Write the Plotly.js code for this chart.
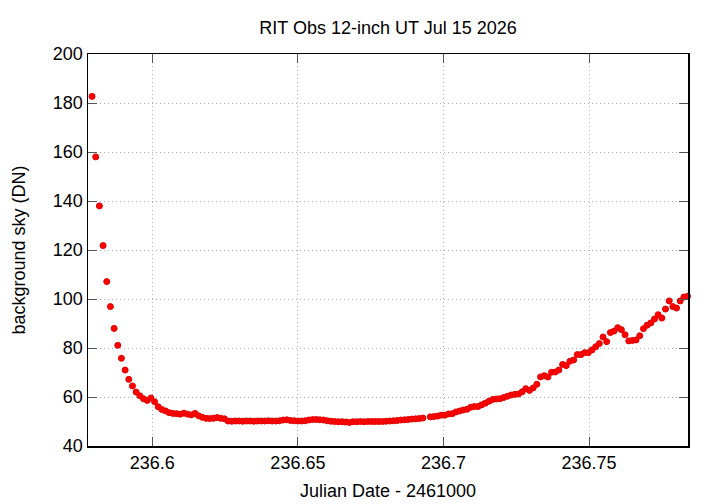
<!DOCTYPE html>
<html>
<head>
<meta charset="utf-8">
<script src="https://cdn.plot.ly/plotly-3.0.1.min.js"></script>
<style>html,body{margin:0;padding:0;background:#fff;}#chart{width:720px;height:504px;}</style>
</head>
<body>
<div id="chart"></div>
<script>
// Julian Date - 2461000
var jd = [
236.57929,236.58055,236.58182,236.58308,236.58434,236.58560,236.58687,236.58813,236.58939,236.59065,
236.59192,236.59318,236.59444,236.59571,236.59697,236.59823,236.59949,236.60076,236.60202,236.60328,
236.60454,236.60581,236.60707,236.60833,236.60959,236.61086,236.61212,236.61338,236.61465,236.61591,
236.61717,236.61843,236.61970,236.62096,236.62222,236.62348,236.62475,236.62601,236.62727,236.62854,
236.62980,236.63106,236.63232,236.63359,236.63485,236.63611,236.63737,236.63864,236.63990,236.64116,
236.64243,236.64369,236.64495,236.64621,236.64748,236.64874,236.65000,236.65126,236.65253,236.65379,
236.65505,236.65631,236.65758,236.65884,236.66010,236.66137,236.66263,236.66389,236.66515,236.66642,
236.66768,236.66894,236.67020,236.67147,236.67273,236.67399,236.67526,236.67652,236.67778,236.67904,
236.68031,236.68157,236.68283,236.68409,236.68536,236.68662,236.68788,236.68915,236.69041,236.69167,
236.69293,
236.69546,236.69672,236.69798,236.69925,236.70051,236.70177,236.70304,236.70430,236.70556,236.70682,
236.70809,236.70935,236.71061,236.71187,236.71314,236.71440,236.71566,236.71693,236.71819,236.71945,
236.72071,236.72198,236.72324,236.72450,236.72576,236.72703,236.72829,236.72955,236.73082,236.73208,
236.73334,236.73460,236.73587,236.73713,236.73839,236.73965,236.74092,236.74218,236.74344,236.74471,
236.74597,236.74723,236.74849,236.74976,236.75102,236.75228,236.75354,236.75481,236.75607,236.75733,
236.75860,236.75986,236.76112,236.76238,236.76365,236.76491,236.76617,236.76743,236.76870,236.76996,
236.77122,236.77249,236.77375,236.77501,236.77627,236.77754,236.77880,236.78006,236.78132,236.78259,
236.78385
];
// background sky (DN)
var sky = [
182.7,158.0,138.0,121.8,107.1,96.9,88.0,81.1,75.8,71.0,
67.2,64.5,62.0,60.5,59.3,58.6,59.6,58.1,56.0,54.9,
54.3,53.6,53.3,53.2,53.0,53.4,53.0,52.7,53.3,52.3,
51.7,51.3,51.2,51.3,51.6,51.3,51.1,50.2,50.1,50.2,
50.2,50.1,50.2,50.2,50.1,50.2,50.2,50.2,50.3,50.2,
50.2,50.3,50.6,50.7,50.4,50.3,50.2,50.2,50.3,50.6,
50.8,50.8,50.7,50.6,50.3,50.1,50.0,49.9,49.9,49.8,
49.6,49.9,49.9,50.0,49.9,50.0,50.0,50.0,50.0,50.0,
50.1,50.2,50.3,50.4,50.6,50.7,50.8,51.0,51.1,51.2,
51.4,
51.9,52.0,52.2,52.6,52.6,53.1,53.2,53.9,54.3,54.7,
55.0,55.8,56.1,56.1,56.8,57.5,58.3,59.0,59.2,59.3,
59.8,60.3,60.8,61.1,61.2,62.1,63.4,62.7,63.7,65.2,
68.2,68.7,68.2,70.1,70.2,71.0,73.3,72.8,74.6,75.1,
77.3,77.3,78.1,78.1,79.2,80.5,81.8,84.5,82.6,86.3,
86.9,88.3,87.5,85.4,82.9,83.1,83.3,85.0,87.9,89.3,
90.2,91.8,93.6,92.2,95.9,99.2,96.9,96.3,99.2,100.8,
101.1
];
var xTickVals = [236.6, 236.65, 236.7, 236.75];
var xTickText = ["236.6", "236.65", "236.7", "236.75"];
var yTickVals = [40, 60, 80, 100, 120, 140, 160, 180, 200];

var font = "Liberation Sans, Arial, sans-serif";
var trace = {
  x: jd, y: sky, type: "scatter", mode: "markers",
  marker: {symbol: "circle", size: 6, color: "#ff0000", line: {color: "#e00000", width: 1}},
  hoverinfo: "x+y", showlegend: false, cliponaxis: false
};
var axisCommon = {
  showline: true, linecolor: "#000", linewidth: 1.5, mirror: "ticks",
  ticks: "inside", ticklen: 9, tickcolor: "#555", tickwidth: 1,
  showgrid: true, gridcolor: "#b0b0b0", griddash: "1px,3px", gridwidth: 1,
  zeroline: false, tickfont: {family: font, size: 18, color: "#000"}
};
var layout = {
  width: 720, height: 504,
  paper_bgcolor: "#fff", plot_bgcolor: "#fff",
  margin: {l: 88, r: 32, t: 54, b: 58, pad: 0},
  font: {family: font, size: 18, color: "#000"},
  title: {text: "RIT Obs 12-inch UT Jul 15 2026", font: {family: font, size: 18, color: "#000"},
          x: 0.5, xref: "paper", y: 1 - 28/504, yref: "container", yanchor: "middle"},
  xaxis: Object.assign({}, axisCommon, {
    range: [236.5779, 236.7840], tickmode: "array", tickvals: xTickVals, ticktext: xTickText,
    title: {text: "Julian Date - 2461000", font: {family: font, size: 18, color: "#000"}, standoff: 12}
  }),
  yaxis: Object.assign({}, axisCommon, {
    range: [40, 200], tickmode: "array", tickvals: yTickVals,
    title: {text: "background sky (DN)", font: {family: font, size: 18, color: "#000"}, standoff: 22}
  })
};
Plotly.newPlot("chart", [trace], layout, {displayModeBar: false, staticPlot: true});
</script>
</body>
</html>
